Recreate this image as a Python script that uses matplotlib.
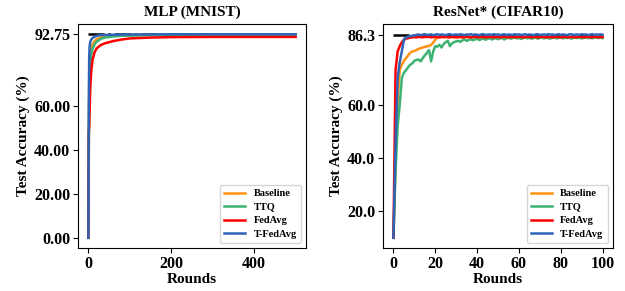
import matplotlib
matplotlib.use('Agg')
import matplotlib.pyplot as plt
from matplotlib.ticker import FormatStrFormatter

plt.rcParams['font.family'] = ['Liberation Serif', 'DejaVu Serif']
plt.rcParams['font.weight'] = 'bold'

labels = ['Baseline', 'TTQ', 'FedAvg', 'T-FedAvg']
colors = ['#ff9215', '#3cb371', '#ff0000', '#2e63b8']

# MLP (MNIST), 500 rounds
mlp_rounds = [0, 1, 2, 3, 4, 5, 7, 10, 15, 20, 30, 40, 60, 80, 100, 150, 200, 300, 400, 500]
mlp_baseline = [0, 40, 70, 78, 82, 84, 86, 88, 89.5, 90.5, 91.3, 91.7, 92.0, 92.2, 92.3, 92.4, 92.5, 92.6, 92.6, 92.6]
mlp_ttq = [0, 35, 62, 72, 77, 80, 83.5, 86, 88.2, 89.3, 90.6, 91.2, 91.7, 92.0, 92.1, 92.3, 92.4, 92.5, 92.5, 92.5]
mlp_fedavg = [0, 48, 51, 58, 65, 70, 76, 81, 84.5, 86.3, 87.8, 88.6, 89.6, 90.3, 90.8, 91.2, 91.4, 91.5, 91.5, 91.5]
mlp_tfedavg = [0, 60, 82, 87, 88.5, 89.5, 90.3, 91, 91.6, 92.0, 92.3, 92.4, 92.5, 92.55, 92.6, 92.65, 92.7, 92.7, 92.7, 92.7]
mlp_best = 92.75
mlp_yticks = [0, 20, 40, 60, 92.75]
mlp_xticks = [0, 200, 400]

# ResNet* (CIFAR10), 100 rounds
res_rounds = list(range(101))
res_baseline = [10, 40, 62, 73, 75, 76.5, 77.5, 78.5, 79.5, 80.0,
                80.2, 80.5, 81.0, 81.2, 81.5, 81.7, 82.0, 82.0, 82.5, 83.3,
                84.5, 85.2, 85.3, 85.4, 85.4, 85.4, 85.4, 85.4, 85.4, 85.4,
                85.4, 85.4, 85.4, 85.4, 85.4, 85.4, 85.4, 85.4, 85.4, 85.4,
                85.4, 85.4, 85.4, 85.4, 85.4, 85.4, 85.4, 85.4, 85.4, 85.4,
                85.4, 85.4, 85.4, 85.4, 85.4, 85.4, 85.4, 85.4, 85.4, 85.4,
                85.4, 85.4, 85.4, 85.4, 85.4, 85.4, 85.4, 85.4, 85.4, 85.4,
                85.4, 85.4, 85.4, 85.4, 85.4, 85.4, 85.4, 85.4, 85.4, 85.4,
                85.4, 85.4, 85.4, 85.4, 85.4, 85.4, 85.4, 85.4, 85.4, 85.4,
                85.4, 85.4, 85.4, 85.4, 85.4, 85.4, 85.4, 85.4, 85.4, 85.4, 85.4]
res_ttq = [10, 35, 52, 60, 70, 72, 73, 74, 75, 75.5,
           76.5, 76.8, 77.0, 76.3, 77.5, 78.5, 79.5, 80.5, 76.3, 80.0,
           82.0, 81.8, 82.5, 81.5, 82.8, 83.5, 84.0, 82.0, 83.0, 83.5,
           83.8, 84.0, 83.6, 84.2, 84.5, 84.0, 84.3, 84.6, 84.2, 84.5,
           84.8, 84.3, 84.6, 84.9, 84.4, 84.7, 85.0, 84.5, 84.8, 85.0,
           84.6, 84.9, 85.1, 84.5, 84.9, 85.2, 84.8, 85.0, 85.3, 84.9,
           85.1, 84.7, 85.0, 85.3, 84.9, 85.2, 84.8, 85.0, 85.3, 84.8,
           85.1, 85.3, 84.9, 85.2, 85.0, 84.8, 85.2, 85.3, 84.9, 85.1,
           85.3, 84.9, 85.2, 85.0, 85.3, 84.8, 85.1, 85.3, 85.0, 85.2,
           84.9, 85.1, 85.3, 85.0, 85.2, 84.9, 85.2, 85.3, 85.0, 85.2, 85.0]
res_fedavg = [10, 73, 80, 82, 83.5, 84.3, 84.8, 85.0, 85.2, 85.3,
              85.4, 85.3, 85.5, 85.4, 85.3, 85.5, 85.4, 85.5, 85.3, 85.4,
              85.5, 85.4, 85.3, 85.5, 85.4, 85.5, 85.4, 85.3, 85.5, 85.4,
              85.3, 85.4, 85.5, 85.3, 85.4, 85.5, 85.4, 85.3, 85.4, 85.5,
              85.4, 85.3, 85.5, 85.4, 85.3, 85.4, 85.5, 85.4, 85.3, 85.4,
              85.5, 85.3, 85.4, 85.5, 85.4, 85.3, 85.4, 85.5, 85.3, 85.4,
              85.5, 85.4, 85.3, 85.4, 85.5, 85.4, 85.3, 85.5, 85.4, 85.3,
              85.4, 85.5, 85.4, 85.3, 85.4, 85.5, 85.3, 85.4, 85.5, 85.4,
              85.3, 85.4, 85.5, 85.4, 85.3, 85.5, 85.4, 85.3, 85.4, 85.5,
              85.4, 85.3, 85.4, 85.5, 85.3, 85.4, 85.5, 85.4, 85.3, 85.4, 85.4]
res_tfedavg = [10, 45, 70, 76, 80, 84.5, 85.3, 85.6, 85.8, 85.9,
               86.0, 86.2, 86.4, 86.1, 86.3, 86.5, 86.2, 86.3, 86.4, 86.1,
               86.3, 86.5, 86.2, 86.4, 86.3, 86.1, 86.4, 86.5, 86.2, 86.3,
               86.4, 86.2, 86.5, 86.3, 86.1, 86.4, 86.3, 86.5, 86.2, 86.4,
               86.3, 86.1, 86.4, 86.5, 86.2, 86.3, 86.4, 86.2, 86.5, 86.3,
               86.4, 86.2, 86.3, 86.5, 86.1, 86.4, 86.3, 86.2, 86.5, 86.3,
               86.4, 86.2, 86.3, 86.5, 86.2, 86.4, 86.3, 86.1, 86.4, 86.5,
               86.2, 86.3, 86.4, 86.2, 86.5, 86.3, 86.4, 86.2, 86.3, 86.5,
               86.2, 86.4, 86.3, 86.1, 86.4, 86.5, 86.2, 86.3, 86.4, 86.2,
               86.5, 86.3, 86.4, 86.2, 86.3, 86.5, 86.2, 86.4, 86.3, 86.4, 86.3]
res_best = 86.3
res_yticks = [20, 40, 60, 86.3]
res_xticks = [0, 20, 40, 60, 80, 100]

fig = plt.figure(figsize=(6.25, 2.91), dpi=100)
ax1 = fig.add_axes([0.1248, 0.1478, 0.3648, 0.7698])
ax2 = fig.add_axes([0.6128, 0.1478, 0.368, 0.7698])

panels = [
    (ax1, 'MLP (MNIST)', mlp_rounds, [mlp_baseline, mlp_ttq, mlp_fedavg, mlp_tfedavg], mlp_best, mlp_yticks, mlp_xticks, '%.2f'),
    (ax2, 'ResNet* (CIFAR10)', res_rounds, [res_baseline, res_ttq, res_fedavg, res_tfedavg], res_best, res_yticks, res_xticks, '%.1f'),
]

for ax, title, x, series, best, yticks, xticks, fmt in panels:
    ax.plot([x[0], x[-1]], [best, best], color='black', linestyle='-.', lw=1.8, zorder=1)
    for y, c, lab in zip(series, colors, labels):
        ax.plot(x, y, color=c, lw=1.8, label=lab, zorder=2)
    ax.set_title(title, fontsize=11, fontweight='bold')
    ax.set_xlabel('Rounds', fontsize=11, fontweight='bold', labelpad=1)
    ax.set_ylabel('Test Accuracy (%)', fontsize=11, fontweight='bold', labelpad=3)
    ax.set_yticks(yticks)
    ax.set_xticks(xticks)
    ax.yaxis.set_major_formatter(FormatStrFormatter(fmt))
    ax.tick_params(labelsize=11.5, pad=2)
    for t in ax.get_xticklabels() + ax.get_yticklabels():
        t.set_fontweight('bold')
    ax.legend(loc='lower right', prop={'size': 7.5, 'weight': 'bold'},
              handlelength=2.0, borderpad=0.4, labelspacing=0.4)

fig.savefig('out.png', dpi=100)
